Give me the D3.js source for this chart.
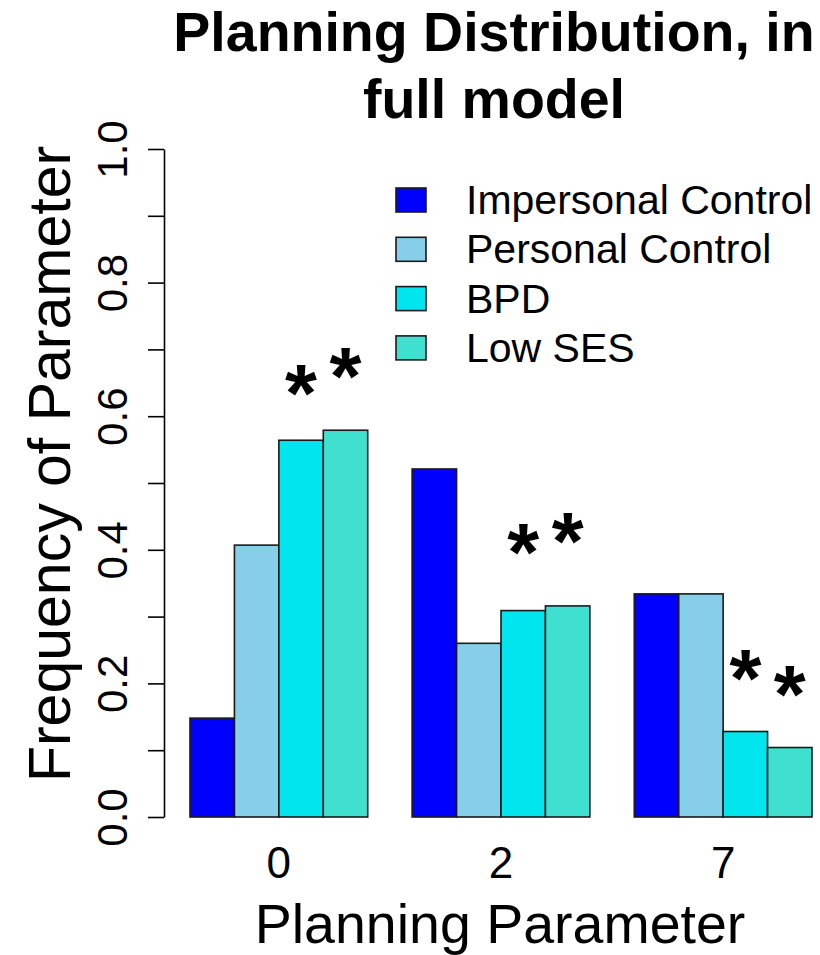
<!DOCTYPE html>
<html>
<head>
<meta charset="utf-8">
<script src="https://cdn.jsdelivr.net/npm/d3@7"></script>
<style>
  html, body { margin: 0; padding: 0; background: #ffffff; }
  svg { display: block; font-family: "Liberation Sans", Arial, sans-serif; }
</style>
</head>
<body>
<svg id="chart" width="820" height="955"></svg>
<script>
// ---- data ----
const categories = ["0", "2", "7"];
const seriesNames = ["Impersonal Control", "Personal Control", "BPD", "Low SES"];
const seriesColors = ["#0000FF", "#87CEEB", "#00E5EE", "#40E0D0"];
const impersonalControl = [0.148, 0.521, 0.334];
const personalControl   = [0.407, 0.260, 0.334];
const bpd               = [0.564, 0.309, 0.128];
const lowSES            = [0.579, 0.316, 0.104];
// significance marks: [category, series, y position of the mark]
const starMarks = [
  ["0", "BPD", 0.651], ["0", "Low SES", 0.677],
  ["2", "BPD", 0.413], ["2", "Low SES", 0.430],
  ["7", "BPD", 0.225], ["7", "Low SES", 0.201]
];
const yTicks = [0, 0.1, 0.2, 0.3, 0.4, 0.5, 0.6, 0.7, 0.8, 0.9, 1.0];
const yTickLabels = ["0.0", "", "0.2", "", "0.4", "", "0.6", "", "0.8", "", "1.0"];
const titleLines = ["Planning Distribution, in", "full model"];
const xTitle = "Planning Parameter";
const yTitle = "Frequency of Parameter";

const seriesValues = [impersonalControl, personalControl, bpd, lowSES];
const table = [];
categories.forEach((c, ci) => seriesNames.forEach((s, si) =>
  table.push({cat: c, series: s, value: seriesValues[si][ci], color: seriesColors[si]})));

// ---- layout ----
const svg = d3.select("#chart");
const x0 = d3.scaleBand().domain(categories).range([190, 812]).paddingInner(0.2).paddingOuter(0);
const x1 = d3.scaleBand().domain(seriesNames).range([0, x0.bandwidth()]).padding(0);
const y = d3.scaleLinear().domain([0, 1]).range([817, 149]);
const axisX = 164;

// bars
svg.append("g").selectAll("rect").data(table).join("rect")
  .attr("x", d => x0(d.cat) + x1(d.series))
  .attr("y", d => y(d.value))
  .attr("width", x1.bandwidth())
  .attr("height", d => y(0) - y(d.value))
  .attr("fill", d => d.color)
  .attr("stroke", "#1a1a1a")
  .attr("stroke-width", 1.6);

// y axis
const yAxis = d3.axisLeft(y).tickValues(yTicks).tickSize(16).tickSizeOuter(0)
  .tickFormat((d, i) => yTickLabels[i]);
const gy = svg.append("g").attr("transform", `translate(${axisX},0)`).call(yAxis);
gy.select(".domain").attr("stroke", "#000").attr("stroke-width", 1.6);
gy.selectAll(".tick line").attr("stroke", "#000").attr("stroke-width", 1.6);
gy.selectAll(".tick text")
  .attr("x", null).attr("dy", null)
  .attr("transform", "translate(-37,0) rotate(-90)")
  .attr("text-anchor", "middle")
  .attr("fill", "#000")
  .style("font-size", "42px")
  .style("font-family", "Liberation Sans, Arial, sans-serif");

// x axis labels
const xAxis = d3.axisBottom(x0).tickSize(0);
const gx = svg.append("g").attr("transform", "translate(0,817)").call(xAxis);
gx.select(".domain").remove();
gx.selectAll(".tick text")
  .attr("y", 61).attr("dy", null)
  .attr("fill", "#000")
  .style("font-size", "44px")
  .style("font-family", "Liberation Sans, Arial, sans-serif");

// significance stars
const starSize = 82;
svg.append("g").selectAll("text").data(starMarks).join("text")
  .attr("x", d => x0(d[0]) + x1(d[1]) + x1.bandwidth() / 2)
  .attr("y", d => y(d[2]) + 0.475 * starSize)
  .attr("text-anchor", "middle")
  .attr("font-weight", "bold")
  .style("font-size", starSize + "px")
  .text("*");

// titles
svg.append("g").selectAll("text").data(titleLines).join("text")
  .attr("x", 494)
  .attr("y", (d, i) => 51 + i * 67)
  .attr("text-anchor", "middle")
  .attr("font-weight", "bold")
  .style("font-size", "55.5px")
  .text(d => d);

svg.append("text")
  .attr("x", 500).attr("y", 943)
  .attr("text-anchor", "middle")
  .style("font-size", "55.5px")
  .text(xTitle);

svg.append("text")
  .attr("transform", `translate(70,464) rotate(-90)`)
  .attr("text-anchor", "middle")
  .style("font-size", "59px")
  .text(yTitle);

// legend
const legend = svg.append("g").selectAll("g").data(seriesNames).join("g")
  .attr("transform", (d, i) => `translate(396,${200 + i * 49.3})`);
legend.append("rect")
  .attr("x", 0).attr("y", -12).attr("width", 30).attr("height", 24)
  .attr("fill", (d, i) => seriesColors[i])
  .attr("stroke", "#1a1a1a").attr("stroke-width", 1.6);
legend.append("text")
  .attr("x", 70).attr("y", 14)
  .style("font-size", "41px")
  .text(d => d);
</script>
</body>
</html>
